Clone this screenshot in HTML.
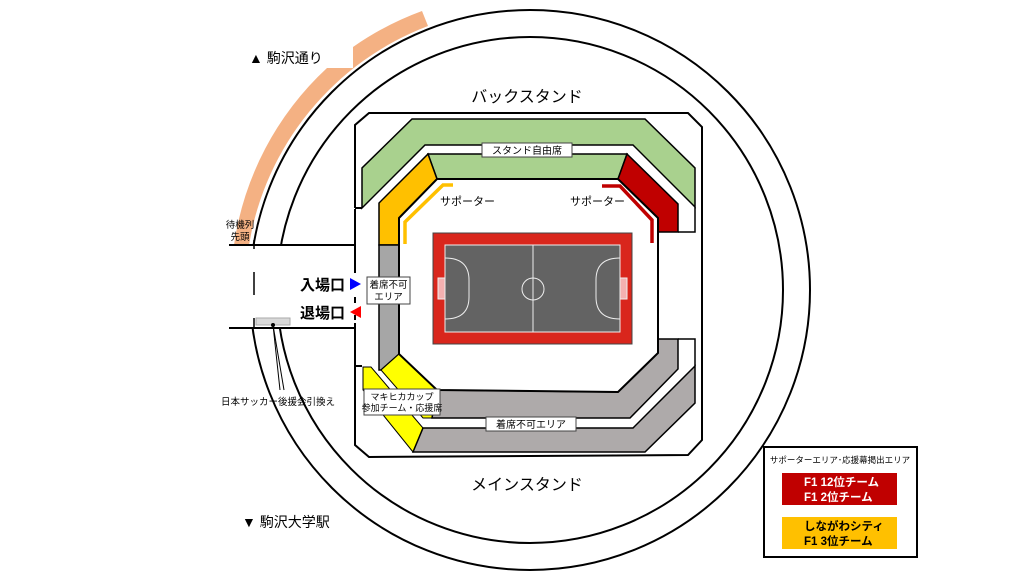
<!DOCTYPE html>
<html><head><meta charset="utf-8"><style>
html,body{margin:0;padding:0;background:#fff;}
svg{display:block;}
text{font-family:"Liberation Sans","Noto Sans CJK JP",sans-serif;fill:#000;}
</style></head><body>
<svg width="1024" height="576" viewBox="0 0 1024 576" xmlns="http://www.w3.org/2000/svg">
<!-- orange band -->
<path d="M234,245 A299,299 0 0 1 327,68 L353,68 L353,47 A300,300 0 0 1 422,11 L428,26 A284,284 0 0 0 249,245 Z" fill="#f4b183"/>
<!-- circles -->
<circle cx="530" cy="290" r="280" fill="none" stroke="#000" stroke-width="2"/>
<circle cx="530" cy="290" r="253" fill="none" stroke="#000" stroke-width="2"/>
<!-- corridor white mask -->
<rect x="228" y="246" width="126" height="81" fill="#fff"/>
<line x1="229" y1="245" x2="355" y2="245" stroke="#000" stroke-width="2"/>
<line x1="229" y1="328" x2="355" y2="328" stroke="#000" stroke-width="2"/>
<line x1="254" y1="240" x2="254" y2="249" stroke="#000" stroke-width="1.5"/>
<line x1="254" y1="272" x2="254" y2="295" stroke="#000" stroke-width="1.5"/>
<line x1="254" y1="318" x2="254" y2="328" stroke="#000" stroke-width="1.5"/>
<rect x="256" y="318" width="34" height="7" fill="#d9d9d9" stroke="#aaa" stroke-width="1"/>
<circle cx="273" cy="325" r="2" fill="#000"/>
<line x1="273" y1="325" x2="280" y2="390" stroke="#000" stroke-width="1"/>
<line x1="273" y1="325" x2="284" y2="390" stroke="#000" stroke-width="1"/>
<!-- stadium outer -->
<path d="M355,208 L355,125 L369,113 L688,113 L702,127 L702,440 L688,455 L369,457 L355,445 L355,366" fill="#fff" stroke="#000" stroke-width="2"/>
<path d="M355,208 L362,208" stroke="#000" stroke-width="2"/>
<path d="M355,366 L362,366" stroke="#000" stroke-width="2"/>
<rect x="354" y="209" width="3" height="156" fill="#fff"/>
<line x1="355" y1="209" x2="355" y2="273" stroke="#000" stroke-width="2"/>
<line x1="355" y1="297" x2="355" y2="303" stroke="#000" stroke-width="2"/>
<line x1="355" y1="315" x2="355" y2="320" stroke="#000" stroke-width="2"/>
<line x1="355" y1="323" x2="355" y2="366" stroke="#000" stroke-width="2"/>
<!-- green outer band -->
<path d="M362,208 L362,168 L412,119 L645,119 L695,168 L695,207 L633,145 L425,145 Z" fill="#a9d18e" stroke="#000" stroke-width="1.5"/>
<!-- green inner -->
<path d="M428,154 L627,154 L618,179 L437,179 Z" fill="#a9d18e" stroke="#000" stroke-width="1.5"/>
<!-- orange left -->
<path d="M428,154 L437,179 L399,218 L399,245 L379,245 L379,203 Z" fill="#ffc000" stroke="#000" stroke-width="1.5"/>
<!-- red right -->
<path d="M627,154 L678,204 L678,232 L658,232 L658,218 L618,179 Z" fill="#c00000" stroke="#000" stroke-width="1.5"/>
<path d="M678,232 L695,232 L695,207" fill="none" stroke="#000" stroke-width="1.5"/>
<!-- gray left -->
<path d="M379,245 L399,245 L399,354 L381,370 L379,370 Z" fill="#a6a6a6" stroke="#000" stroke-width="1.5"/>
<!-- yellow inner -->
<path d="M381,370 L399,354 L437,390 L432,418 L423,418 Z" fill="#ffff00" stroke="#000" stroke-width="1"/>
<!-- yellow outer -->
<path d="M363,367 L371,367 L423,428 L413,452 L363,390 Z" fill="#ffff00" stroke="#000" stroke-width="1"/>
<!-- gray inner lower -->
<path d="M437,390 L618,392 L658,353 L658,339 L678,339 L678,369 L630,418 L432,418 Z" fill="#aeaaaa" stroke="#000" stroke-width="1.5"/>
<!-- gray outer lower -->
<path d="M423,428 L633,428 L695,366 L695,403 L645,452 L413,452 Z" fill="#aeaaaa" stroke="#000" stroke-width="1.5"/>
<path d="M678,339 L695,339 L695,366" fill="none" stroke="#000" stroke-width="1.5"/>
<!-- inner field -->
<path d="M399,218 L437,179 L618,179 L658,218 L658,353 L618,392 L437,390 L399,354 Z" fill="#fff" stroke="#000" stroke-width="2"/>
<!-- supporter lines -->
<path d="M453,185 L443,185 L405,222 L405,244" fill="none" stroke="#ffc000" stroke-width="3.5"/>
<path d="M602,186 L620,186 L652,220 L652,243" fill="none" stroke="#c00000" stroke-width="3.5"/>
<text x="440" y="205" font-size="11">サポーター</text>
<text x="570" y="205" font-size="11">サポーター</text>
<!-- court -->
<rect x="433" y="233" width="199" height="111" fill="#d9261c" stroke="#444" stroke-width="1"/>
<rect x="445" y="245" width="175" height="87" fill="#636363" stroke="#eee" stroke-width="1"/>
<line x1="533" y1="245" x2="533" y2="332" stroke="#eee" stroke-width="1"/>
<circle cx="533" cy="289" r="11" fill="none" stroke="#eee" stroke-width="1"/>
<path d="M445,258 Q469,258 469,280 L469,297 Q469,319 445,319" fill="none" stroke="#eee" stroke-width="1"/>
<path d="M620,258 Q596,258 596,280 L596,297 Q596,319 620,319" fill="none" stroke="#eee" stroke-width="1"/>
<rect x="438" y="278" width="7" height="21" fill="#f4b0b0" stroke="#eee" stroke-width="1"/>
<rect x="620" y="278" width="7" height="21" fill="#f4b0b0" stroke="#eee" stroke-width="1"/>
<!-- labels -->
<rect x="482" y="143" width="90" height="14" fill="#fff" stroke="#444" stroke-width="1"/>
<text x="527" y="154" font-size="10" text-anchor="middle">スタンド自由席</text>
<rect x="486" y="417" width="90" height="14" fill="#fff" stroke="#444" stroke-width="1"/>
<text x="531" y="428" font-size="10" text-anchor="middle">着席不可エリア</text>
<rect x="367" y="277" width="43" height="27" fill="#fff" stroke="#444" stroke-width="1"/>
<text x="388.5" y="288" font-size="9.5" text-anchor="middle">着席不可</text>
<text x="388.5" y="300" font-size="9.5" text-anchor="middle">エリア</text>
<rect x="364" y="389" width="76" height="26" fill="#fff" stroke="#444" stroke-width="1"/>
<text x="402" y="400" font-size="9" text-anchor="middle">マキヒカカップ</text>
<text x="402" y="411" font-size="9" text-anchor="middle">参加チーム・応援席</text>
<!-- entrances -->
<text x="345" y="290" font-size="15" font-weight="bold" text-anchor="end">入場口</text>
<text x="345" y="318" font-size="15" font-weight="bold" text-anchor="end">退場口</text>
<path d="M350,278 L361,284 L350,290 Z" fill="#0000ff"/>
<path d="M361,306 L350,312 L361,318 Z" fill="#ff0000"/>
<!-- other text -->
<text x="527" y="102" font-size="16" text-anchor="middle">バックスタンド</text>
<text x="527" y="490" font-size="16" text-anchor="middle">メインスタンド</text>
<text x="249" y="63" font-size="14">▲ 駒沢通り</text>
<text x="242" y="527" font-size="14">▼ 駒沢大学駅</text>
<text x="240" y="228" font-size="9.5" text-anchor="middle">待機列</text>
<text x="240" y="240" font-size="9.5" text-anchor="middle">先頭</text>
<text x="278" y="405" font-size="9.5" text-anchor="middle">日本サッカー後援会引換え</text>
<!-- legend -->
<rect x="764" y="447" width="153" height="110" fill="#fff" stroke="#000" stroke-width="2"/>
<text x="840" y="463" font-size="8.5" text-anchor="middle">サポーターエリア･応援幕掲出エリア</text>
<rect x="782" y="473" width="115" height="32" fill="#c00000"/>
<text x="804" y="486" font-size="11.5" font-weight="bold" style="fill:#fff">F1 12位チーム</text>
<text x="804" y="501" font-size="11.5" font-weight="bold" style="fill:#fff">F1 2位チーム</text>
<rect x="782" y="517" width="115" height="32" fill="#ffc000"/>
<text x="804" y="530" font-size="11.5" font-weight="bold">しながわシティ</text>
<text x="804" y="545" font-size="11.5" font-weight="bold">F1 3位チーム</text>
</svg>
</body></html>
